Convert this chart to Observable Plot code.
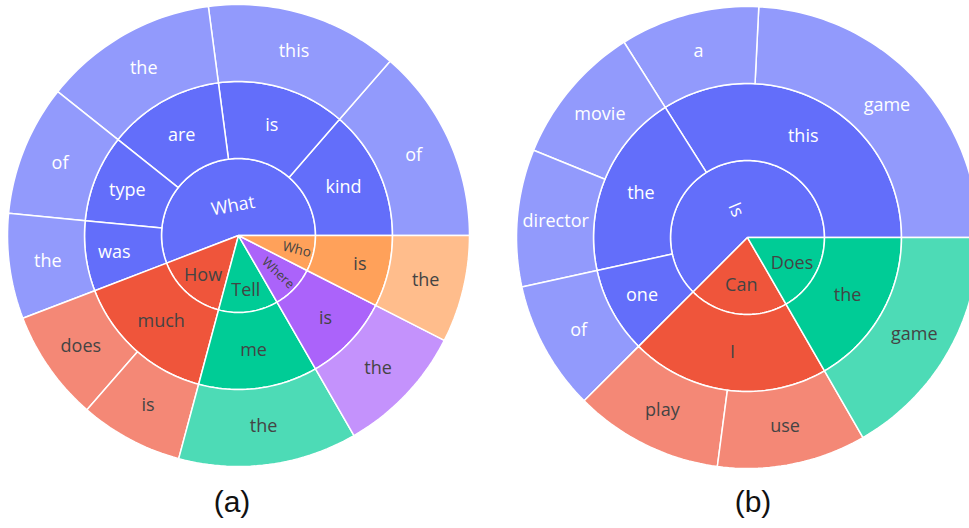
<!DOCTYPE html>
<html>
<head>
<meta charset="utf-8">
<script src="https://cdn.jsdelivr.net/npm/d3@7"></script>
<script src="https://cdn.jsdelivr.net/npm/@observablehq/plot@0.6"></script>
<style>
html, body { margin: 0; padding: 0; background: #fff; overflow: hidden; width: 969px; height: 528px; }
#wrap { position: relative; width: 969px; height: 528px; overflow: hidden; }
.chart { position: absolute; }
.cap { position: absolute; font-family: "Liberation Sans", Arial, sans-serif; font-size: 30px; line-height: 30px; color: #111; transform: translateX(-50%); white-space: nowrap; }
</style>
</head>
<body>
<div id="wrap"></div>
<script>
// ---- data: chart (a) ----
const leftPaths = [
  "What/kind/of", "What/is/this", "What/are/the", "What/type/of", "What/was/the",
  "How/much/does", "How/much/is",
  "Tell/me/the",
  "Where/is/the",
  "Who/is/the"
];
const leftValues = [49, 48.5, 44, 33, 26.5, 28, 26, 45, 33, 27];

// ---- data: chart (b) ----
const rightPaths = [
  "Is/this/game", "Is/this/a", "Is/the/movie", "Is/the/director", "Is/one/of",
  "Can/I/play", "Can/I/use",
  "Does/the/game"
];
const rightValues = [87.2, 35.1, 35.5, 34.6, 32.6, 37.5, 37.5, 60];

const captions = ["(a)", "(b)"];
const palette = ["#636efa", "#EF553B", "#00cc96", "#ab63fa", "#FFA15A"];

// ---- helpers ----
function buildTree(paths, values) {
  const root = {name: "root", children: []};
  paths.forEach((p, i) => {
    let node = root;
    p.split("/").forEach(name => {
      let child = node.children.find(c => c.name === name);
      if (!child) { child = {name, children: []}; node.children.push(child); }
      node = child;
    });
    node.value = values[i];
  });
  return root;
}

const FONT = '"Open Sans", verdana, arial, sans-serif';
const BASE_SIZE = 18;
const canvas = document.createElement("canvas");
const ctx = canvas.getContext("2d");
function measure(text) {
  ctx.font = BASE_SIZE + 'px "Open Sans"';
  return ctx.measureText(text).width;
}
const norm = d => ((d + 720 + 90) % 180) - 90;
const deg = r => r * 180 / Math.PI;

function maxHalf(a, halfAngle, r, ring) {
  const q = a + 1 / (2 * Math.tan(halfAngle));
  return r * Math.min(1 / (Math.sqrt(q * q + 0.5) + q), ring / (Math.sqrt(a * a + ring / 2) + a));
}

// plotly-like "auto" inside text placement
function placeText(w, h, n, unit, pad) {
  const rpx0 = (n.depth - 1) * unit, rpx1 = n.depth * unit;
  const ring = 1 - rpx0 / rpx1;
  const d = n.x1 - n.x0;
  const delta = Math.atan2(Math.sin(d), Math.cos(d));
  const halfangle = 0.5 * Math.min(delta || Math.PI, Math.PI);
  let rIns;
  if (rpx0 === 0 && Math.abs(d - 2 * Math.PI) < 1e-9) rIns = 1;
  else rIns = Math.max(0, Math.min(1 / (1 + 1 / Math.sin(halfangle)), ring / 2));
  const mid = (n.x0 + n.x1) / 2;
  const all = [];
  const hz = {scale: rIns * rpx1 * 2 / Math.hypot(w, h), rCenter: 1 - rIns, rotate: 0};
  if (hz.scale >= 1) return {...hz, mid, rpx1};
  all.push(hz);
  const r = Math.max(0, rpx1 - 2 * pad);
  let a = w / h, s = maxHalf(a, halfangle, r, ring);
  all.push({scale: s * 2 / h, rCenter: Math.cos(s / r) - a * s / r, rotate: norm(-deg(mid))});
  a = h / w; s = maxHalf(a, halfangle, r, ring);
  all.push({scale: s * 2 / w, rCenter: Math.cos(s / r) - a * s / r, rotate: norm(90 - deg(mid))});
  let best = all[0];
  for (const t of all) if (t.scale > best.scale) best = t;
  return {...best, mid, rpx1};
}

function brightness(c) {
  const k = d3.rgb(c);
  return (k.r * 299 + k.g * 587 + k.b * 114) / 1000;
}

function sunburst(paths, values) {
  const S = 470, M = 4, RINGS = 3;
  const unit = (S - 2 * M) / (2 * RINGS);
  const root = d3.hierarchy(buildTree(paths, values)).sum(d => (d.children && d.children.length) ? 0 : d.value);
  d3.partition().size([2 * Math.PI, 1])(root);

  const polys = [], labels = [];
  root.descendants().filter(n => n.depth > 0).forEach((n, k) => {
    const top = n.ancestors().find(a => a.depth === 1);
    const base = palette[root.children.indexOf(top) % palette.length];
    const leaf = !n.children;
    const fill = leaf ? d3.interpolateRgb("#ffffff", base)(0.7) : base;
    const r0 = n.depth - 1, r1 = n.depth;
    const steps = Math.max(2, Math.ceil((n.x1 - n.x0) / (Math.PI / 120)));
    for (let i = 0; i <= steps; i++) {
      const a = n.x0 + (n.x1 - n.x0) * i / steps;
      polys.push({id: k, x: r1 * Math.cos(a), y: r1 * Math.sin(a), fill});
    }
    if (r0 === 0) polys.push({id: k, x: 0, y: 0, fill});
    else for (let i = steps; i >= 0; i--) {
      const a = n.x0 + (n.x1 - n.x0) * i / steps;
      polys.push({id: k, x: r0 * Math.cos(a), y: r0 * Math.sin(a), fill});
    }
    const name = n.data.name;
    const w = measure(name), h = BASE_SIZE * 1.362;
    const t = placeText(w, h, n, unit, 4.5);
    const rr = t.rCenter * t.rpx1 / unit;
    labels.push({
      text: name,
      x: rr * Math.cos(t.mid), y: rr * Math.sin(t.mid),
      rotate: t.rotate,
      size: BASE_SIZE * Math.min(1, t.scale),
      color: brightness(base) < 128 ? "#ffffff" : "#444444"
    });
  });

  return Plot.plot({
    width: S, height: S, margin: M,
    x: {domain: [-RINGS, RINGS], axis: null},
    y: {domain: [-RINGS, RINGS], axis: null},
    color: {type: "identity"},
    style: {fontFamily: FONT, background: "transparent", overflow: "visible"},
    marks: [
      Plot.line(polys, {x: "x", y: "y", z: "id", fill: d => d.fill, stroke: "#ffffff", strokeWidth: 1.5, curve: "linear-closed", strokeLinejoin: "miter"}),
      Plot.text(labels, {x: "x", y: "y", text: "text", rotate: d => d.rotate, fontSize: d => d.size, fill: d => d.color, textAnchor: "middle", lineAnchor: "middle"})
    ]
  });
}

const wrap = document.getElementById("wrap");
const charts = [
  {paths: leftPaths, values: leftValues, left: 3, top: 0, capX: 232},
  {paths: rightPaths, values: rightValues, left: 512, top: 2, capX: 753}
];
charts.forEach((c, i) => {
  const svg = sunburst(c.paths, c.values);
  svg.classList.add("chart");
  svg.style.left = c.left + "px";
  svg.style.top = c.top + "px";
  wrap.appendChild(svg);
  const cap = document.createElement("div");
  cap.className = "cap";
  cap.textContent = captions[i];
  cap.style.left = c.capX + "px";
  cap.style.top = "487px";
  wrap.appendChild(cap);
});
</script>
</body>
</html>
